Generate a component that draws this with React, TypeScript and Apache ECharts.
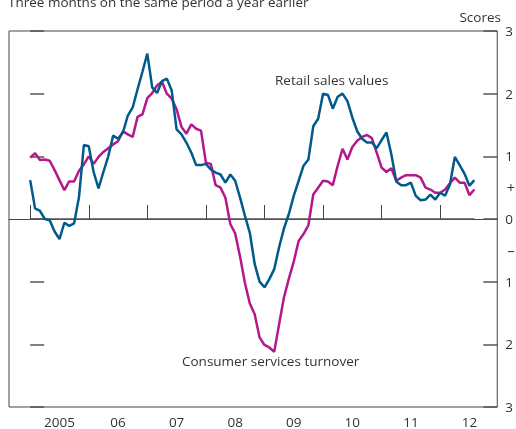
import React, { useEffect, useRef } from "react";
import * as echarts from "echarts";

const yearLabels = ["2005", "06", "07", "08", "09", "10", "11", "12"];
const yTicks = [-3, -2, -1, 0, 1, 2, 3];

// Monthly values, Jan 2005 - Aug 2012
const retailSales = [
  0.62, 0.17, 0.13, 0.0, -0.02, -0.2, -0.32, -0.06, -0.11, -0.07, 0.35, 1.18,
  1.16, 0.75, 0.49, 0.75, 1.0, 1.33, 1.28, 1.38, 1.65, 1.78, 2.07, 2.35,
  2.64, 2.1, 2.01, 2.2, 2.24, 2.05, 1.43, 1.35, 1.22, 1.06, 0.86, 0.86,
  0.88, 0.79, 0.74, 0.71, 0.58, 0.71, 0.61, 0.34, 0.05, -0.22, -0.72, -1.0,
  -1.09, -0.96, -0.8, -0.45, -0.15, 0.08, 0.37, 0.61, 0.85, 0.95, 1.48, 1.6,
  2.0, 1.98, 1.76, 1.95, 2.0, 1.88, 1.62, 1.4, 1.28, 1.22, 1.22, 1.13,
  1.26, 1.38, 1.03, 0.6, 0.54, 0.54, 0.58, 0.37, 0.3, 0.31, 0.39, 0.31,
  0.42, 0.37, 0.55, 0.99, 0.86, 0.72, 0.53, 0.62,
];

const consumerServices = [
  0.98, 1.05, 0.94, 0.95, 0.93, 0.78, 0.62, 0.46, 0.6, 0.6, 0.77, 0.87,
  1.0, 0.88, 0.99, 1.07, 1.13, 1.19, 1.24, 1.4, 1.35, 1.31, 1.63, 1.67,
  1.93, 2.01, 2.13, 2.19, 2.0, 1.92, 1.75, 1.47, 1.36, 1.51, 1.44, 1.41,
  0.9, 0.88, 0.54, 0.5, 0.34, -0.08, -0.23, -0.6, -1.02, -1.35, -1.52, -1.89,
  -2.01, -2.05, -2.12, -1.68, -1.25, -0.95, -0.68, -0.35, -0.24, -0.1, 0.39, 0.5,
  0.61, 0.6, 0.54, 0.85, 1.12, 0.95, 1.15, 1.25, 1.31, 1.34, 1.29, 1.06,
  0.82, 0.75, 0.81, 0.61, 0.66, 0.7, 0.7, 0.7, 0.66, 0.5, 0.47, 0.42,
  0.42, 0.47, 0.57, 0.66, 0.58, 0.58, 0.38, 0.47,
];

const FONT = "'Open Sans', 'Noto Sans', sans-serif";
const FS = 13.5;
const TEXT = "#333";
const BLUE = "#005a8c";
const MAGENTA = "#b4198c";

export default function App() {
  const ref = useRef<HTMLDivElement>(null);

  useEffect(() => {
    if (!ref.current) return;
    const chart = echarts.init(ref.current, null, { renderer: "svg" });
    const blueData = retailSales.map((v, i) => [i, v]);
    const magData = consumerServices.map((v, i) => [i, v]);
    const yearTicks = yearLabels.map((_, i) => i * 12);
    const yearLabelPos = yearLabels.map((_, i) => i * 12 + 6);

    chart.setOption({
      animation: false,
      textStyle: { fontFamily: FONT },
      grid: {
        left: 9,
        top: 31,
        width: 491,
        height: 376,
        show: true,
        borderColor: "#444",
        borderWidth: 1,
        backgroundColor: "transparent",
      },
      xAxis: {
        type: "value",
        min: -4.34,
        max: 95.7,
        splitLine: { show: false },
        axisLine: { show: true, lineStyle: { color: "#444", width: 1 } },
        axisTick: {
          show: true,
          inside: true,
          length: 14,
          customValues: yearTicks,
          lineStyle: { color: "#444", width: 1 },
        },
        axisLabel: {
          show: true,
          customValues: yearLabelPos,
          color: TEXT,
          fontSize: FS,
          fontFamily: FONT,
          margin: 8,
          formatter: (v: number) => yearLabels[Math.round((v - 6) / 12)] ?? "",
        },
      },
      yAxis: [
        {
          type: "value",
          position: "left",
          min: -3,
          max: 3,
          interval: 1,
          splitLine: { show: false },
          axisLine: { show: false },
          axisTick: {
            show: true,
            inside: true,
            length: 14,
            customValues: yTicks,
            lineStyle: { color: "#555", width: 1.5 },
          },
          axisLabel: { show: false },
        },
        {
          type: "value",
          position: "right",
          min: -3,
          max: 3,
          interval: 1,
          splitLine: { show: false },
          axisLine: { show: false },
          axisTick: {
            show: true,
            inside: true,
            length: 14,
            customValues: yTicks,
            lineStyle: { color: "#555", width: 1.5 },
          },
          axisLabel: {
            show: true,
            customValues: yTicks,
            color: TEXT,
            fontSize: FS,
            fontFamily: FONT,
            margin: 8,
            formatter: (v: number) => String(Math.abs(v)),
          },
        },
      ],
      series: [
        {
          name: "Consumer services turnover",
          type: "line",
          data: magData,
          showSymbol: false,
          symbol: "none",
          lineStyle: { color: MAGENTA, width: 2.5 },
          itemStyle: { color: MAGENTA },
          z: 3,
        },
        {
          name: "Retail sales values",
          type: "line",
          data: blueData,
          showSymbol: false,
          symbol: "none",
          lineStyle: { color: BLUE, width: 2.5 },
          itemStyle: { color: BLUE },
          z: 4,
          markLine: {
            silent: true,
            symbol: "none",
            label: { show: false },
            lineStyle: { color: "#555", width: 1.5, type: "solid" },
            data: [[{ coord: [0, 0] }, { coord: [retailSales.length - 1, 0] }]],
            z: 1,
          },
        },
      ],
      graphic: [
        {
          type: "text",
          x: 8,
          y: 1.5,
          style: {
            text: "Three months on the same period a year earlier",
            fill: TEXT,
            font: `${FS}px ${FONT}`,
            textVerticalAlign: "middle",
          },
        },
        {
          type: "text",
          x: 501,
          y: 17,
          style: {
            text: "Scores",
            fill: TEXT,
            font: `${FS}px ${FONT}`,
            textAlign: "right",
            textVerticalAlign: "middle",
          },
        },
        {
          type: "text",
          x: 511,
          y: 187,
          style: {
            text: "+",
            fill: TEXT,
            font: `${FS + 1}px ${FONT}`,
            textAlign: "center",
            textVerticalAlign: "middle",
          },
        },
        {
          type: "text",
          x: 511,
          y: 250,
          style: {
            text: "–",
            fill: TEXT,
            font: `${FS + 1}px ${FONT}`,
            textAlign: "center",
            textVerticalAlign: "middle",
          },
        },
        {
          type: "text",
          x: 275,
          y: 80,
          style: {
            text: "Retail sales values",
            fill: TEXT,
            font: `${FS}px ${FONT}`,
            textVerticalAlign: "middle",
          },
        },
        {
          type: "text",
          x: 182,
          y: 361,
          style: {
            text: "Consumer services turnover",
            fill: TEXT,
            font: `${FS}px ${FONT}`,
            textVerticalAlign: "middle",
          },
        },
      ],
    });

    return () => chart.dispose();
  }, []);

  return (
    <div
      ref={ref}
      style={{ position: "fixed", left: 0, top: 0, width: 516, height: 429 }}
    />
  );
}
